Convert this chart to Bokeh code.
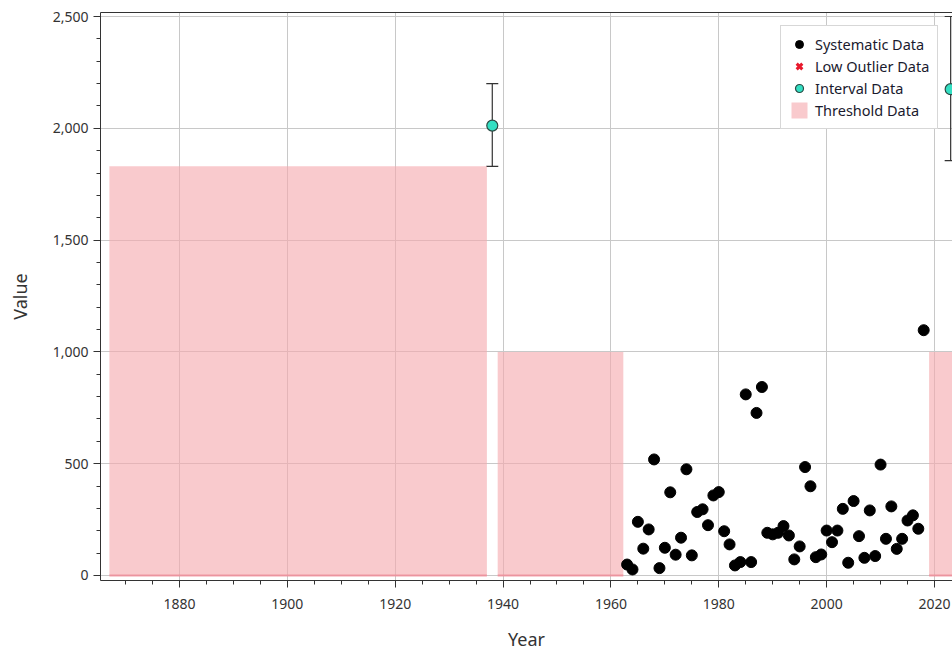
from bokeh.plotting import figure
from bokeh.models import (ColumnDataSource, Whisker, TeeHead, LinearAxis, FixedTicker,
                          SingleIntervalTicker, NumeralTickFormatter, Legend, LegendItem, Range1d)
from bokeh.embed import file_html
from bokeh.resources import INLINE

# ---- data ----
sys_years = list(range(1963, 2019))
sys_values = [49, 27, 240, 120, 206, 519, 33, 124, 372, 93,
              169, 475, 90, 284, 296, 225, 358, 373, 198, 139,
              45, 60, 810, 60, 727, 843, 191, 184, 191, 221,
              179, 72, 130, 485, 399, 82, 94, 201, 149, 201,
              298, 57, 333, 176, 79, 291, 87, 496, 164, 309,
              119, 164, 246, 269, 209, 1097]

# no low outliers in this record (NaN placeholder keeps the legend glyph)
outlier_years = [float("nan")]
outlier_values = [float("nan")]

interval_years = [1938, 2023]
interval_values = [2012, 2175]
interval_lower = [1830, 1855]
interval_upper = [2200, 2500]

thr_start = [1867, 1939, 2019]
thr_end = [1937, 1962.3, 2025]
thr_lower = [0, 0, 0]
thr_upper = [1830, 1000, 1000]

FONT = "Noto Sans"
TXT = "#333333"

p = figure(width=952, height=653, output_backend="svg", toolbar_location=None,
           x_range=Range1d(1865.35, 2023.34), y_range=Range1d(-22.4, 2517.9),
           x_axis_label="Year", y_axis_label="Value")
p.min_border_left = 100
p.min_border_right = 0
p.min_border_top = 12
p.min_border_bottom = 73
p.outline_line_color = None
p.background_fill_color = "white"
p.border_fill_color = "white"

# grids
p.xgrid.grid_line_color = "#c8c8c8"
p.ygrid.grid_line_color = "#c8c8c8"
p.xgrid.level = "underlay"
p.ygrid.level = "underlay"

# axes
p.xaxis.ticker = SingleIntervalTicker(interval=20, num_minor_ticks=4)
p.yaxis.ticker = SingleIntervalTicker(interval=500, num_minor_ticks=5)
p.yaxis.formatter = NumeralTickFormatter(format="0,0")
for ax in (p.xaxis[0], p.yaxis[0]):
    ax.axis_line_color = "#333333"
    ax.major_tick_line_color = "#333333"
    ax.minor_tick_line_color = "#333333"
    ax.major_tick_out = 7
    ax.major_tick_in = 0
    ax.minor_tick_out = 4
    ax.minor_tick_in = 0
    ax.major_label_text_font = FONT
    ax.major_label_text_font_size = "14px"
    ax.major_label_text_color = TXT
    ax.axis_label_text_font = FONT
    ax.axis_label_text_font_size = "18px"
    ax.axis_label_text_font_style = "normal"
    ax.axis_label_text_color = TXT
p.yaxis.major_label_standoff = 5
p.yaxis.axis_label_standoff = 18
p.xaxis.major_label_standoff = 11
p.xaxis.axis_label_standoff = 15

top_axis = LinearAxis(ticker=FixedTicker(ticks=[]), major_label_text_font_size="0px",
                      major_label_standoff=0, axis_line_color="#333333",
                      major_tick_line_color=None, minor_tick_line_color=None)
p.add_layout(top_axis, "above")

# threshold areas
thr_src = ColumnDataSource(dict(left=thr_start, right=thr_end, bottom=thr_lower, top=thr_upper))
thr = p.quad(left="left", right="right", bottom="bottom", top="top", source=thr_src,
             fill_color="#f5a9ae", fill_alpha=0.62, line_color=None)
p.segment(x0="left", x1="right", y0="bottom", y1="bottom", source=thr_src,
          line_color="#f08a96", line_width=2, line_alpha=0.8)

# systematic
sys_r = p.scatter(sys_years, sys_values, size=11, marker="circle",
                  fill_color="black", line_color="black")

# low outliers (none)
out_r = p.scatter(outlier_years, outlier_values, size=11, marker="x",
                  line_color="#e8192c", line_width=3)

# interval with error bars
int_src = ColumnDataSource(dict(x=interval_years, y=interval_values,
                                lower=interval_lower, upper=interval_upper))
wh = Whisker(base="x", lower="lower", upper="upper", source=int_src,
             line_color="#333333", line_width=1.2,
             upper_head=TeeHead(size=12, line_color="#333333", line_width=1.2),
             lower_head=TeeHead(size=12, line_color="#333333", line_width=1.2))
p.add_layout(wh)
int_r = p.scatter("x", "y", source=int_src, size=11, marker="circle",
                  fill_color="#33dfc3", line_color="#2a4a44", line_width=1.2)

legend = Legend(items=[
    LegendItem(label="Systematic Data", renderers=[sys_r]),
    LegendItem(label="Low Outlier Data", renderers=[out_r]),
    LegendItem(label="Interval Data", renderers=[int_r]),
    LegendItem(label="Threshold Data", renderers=[thr]),
], location=(680, 451))
legend.label_text_font = FONT
legend.label_text_font_size = "14.5px"
legend.label_text_color = "#1a1a2e"
legend.label_height = 20
legend.glyph_height = 20
legend.glyph_width = 20
legend.label_standoff = 6
legend.spacing = 2
legend.padding = 8
legend.margin = 0
legend.border_line_color = "#b0b0b0"
legend.background_fill_color = "white"
legend.background_fill_alpha = 1.0
p.add_layout(legend)

open("out.html", "w").write(file_html(p, INLINE))
